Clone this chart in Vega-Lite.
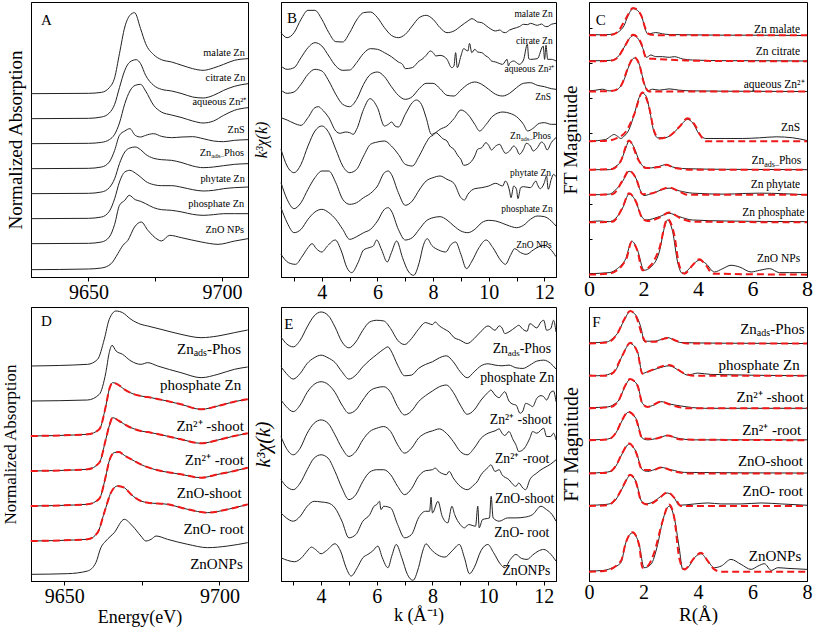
{
"$schema":"https://vega.github.io/schema/vega-lite/v6.json",
"padding":{"left":0,"top":1,"right":0,"bottom":0},
"background":"white",
"columns":3,
"spacing":{"row":30,"column":33},
"bounds":"flush",
"config":{
"view":{"stroke":"#000","strokeWidth":1},
"axis":{"grid":false,"domainColor":"#000","tickColor":"#000","labelColor":"#000","titleColor":"#000","labelFont":"Liberation Serif","titleFont":"Liberation Serif","titleFontWeight":"normal","labelFontSize":20,"tickSize":4,"labelPadding":1,"labelFlush":false,"labelOverlap":false},
"text":{"font":"Liberation Serif","color":"#000"}
},
"datasets":{
"A":[
{"s":1,"x":9628.5,"y":7.2},{"s":1,"x":9650,"y":7.21},{"s":1,"x":9654.9,"y":7.24},{"s":1,"x":9657.8,"y":7.38},{"s":1,"x":9659.8,"y":7.68},{"s":1,"x":9661.6,"y":8.4},{"s":1,"x":9663.6,"y":9.2},{"s":1,"x":9665.5,"y":9.55},{"s":1,"x":9667.25,"y":9.63},{"s":1,"x":9669.5,"y":9.15},{"s":1,"x":9671.4,"y":8.7},{"s":1,"x":9674.4,"y":8.37},{"s":1,"x":9677.3,"y":8.22},{"s":1,"x":9681.1,"y":8.15},{"s":1,"x":9685,"y":8.05},{"s":1,"x":9689,"y":7.95},{"s":1,"x":9692.9,"y":7.9},{"s":1,"x":9696.8,"y":7.97},{"s":1,"x":9700.6,"y":8.08},{"s":1,"x":9704.6,"y":8.2},{"s":1,"x":9709.7,"y":8.25},
{"s":2,"x":9628.5,"y":6.45},{"s":2,"x":9650,"y":6.46},{"s":2,"x":9654.9,"y":6.5},{"s":2,"x":9657.8,"y":6.62},{"s":2,"x":9659.8,"y":6.88},{"s":2,"x":9661.6,"y":7.38},{"s":2,"x":9663.6,"y":7.9},{"s":2,"x":9665.5,"y":8.15},{"s":2,"x":9667.9,"y":8.22},{"s":2,"x":9669.5,"y":8.1},{"s":2,"x":9671.4,"y":7.75},{"s":2,"x":9674.4,"y":7.45},{"s":2,"x":9677.3,"y":7.33},{"s":2,"x":9681.1,"y":7.28},{"s":2,"x":9685,"y":7.2},{"s":2,"x":9689,"y":7.1},{"s":2,"x":9692.9,"y":7.07},{"s":2,"x":9696.8,"y":7.15},{"s":2,"x":9700.6,"y":7.3},{"s":2,"x":9704.6,"y":7.42},{"s":2,"x":9709.7,"y":7.5},
{"s":3,"x":9628.5,"y":5.7},{"s":3,"x":9650,"y":5.71},{"s":3,"x":9654.9,"y":5.74},{"s":3,"x":9657.8,"y":5.82},{"s":3,"x":9659.8,"y":5.98},{"s":3,"x":9661.6,"y":6.32},{"s":3,"x":9663.6,"y":6.9},{"s":3,"x":9665.5,"y":7.28},{"s":3,"x":9667.5,"y":7.45},{"s":3,"x":9669.5,"y":7.48},{"s":3,"x":9671.4,"y":7.28},{"s":3,"x":9674.4,"y":6.85},{"s":3,"x":9677.3,"y":6.65},{"s":3,"x":9681.1,"y":6.56},{"s":3,"x":9685,"y":6.48},{"s":3,"x":9689,"y":6.38},{"s":3,"x":9692.9,"y":6.32},{"s":3,"x":9696.8,"y":6.38},{"s":3,"x":9700.6,"y":6.55},{"s":3,"x":9704.6,"y":6.7},{"s":3,"x":9709.7,"y":6.78},
{"s":4,"x":9628.5,"y":4.95},{"s":4,"x":9650,"y":4.96},{"s":4,"x":9654.9,"y":5},{"s":4,"x":9657.8,"y":5.15},{"s":4,"x":9659.8,"y":5.5},{"s":4,"x":9661.6,"y":5.95},{"s":4,"x":9663.6,"y":6.08},{"s":4,"x":9665.5,"y":6.15},{"s":4,"x":9667.5,"y":5.95},{"s":4,"x":9669.5,"y":5.9},{"s":4,"x":9671.4,"y":5.95},{"s":4,"x":9674.4,"y":6},{"s":4,"x":9677.3,"y":5.92},{"s":4,"x":9681.1,"y":5.88},{"s":4,"x":9685,"y":5.9},{"s":4,"x":9689,"y":5.91},{"s":4,"x":9692.9,"y":5.85},{"s":4,"x":9696.8,"y":5.78},{"s":4,"x":9700.6,"y":5.76},{"s":4,"x":9704.6,"y":5.8},{"s":4,"x":9709.7,"y":5.82},
{"s":5,"x":9628.5,"y":4.2},{"s":5,"x":9650,"y":4.21},{"s":5,"x":9654.9,"y":4.25},{"s":5,"x":9657.8,"y":4.38},{"s":5,"x":9659.8,"y":4.65},{"s":5,"x":9661.6,"y":5.1},{"s":5,"x":9663.6,"y":5.45},{"s":5,"x":9665.5,"y":5.57},{"s":5,"x":9667.5,"y":5.6},{"s":5,"x":9669.5,"y":5.52},{"s":5,"x":9671.4,"y":5.38},{"s":5,"x":9674.4,"y":5.26},{"s":5,"x":9677.3,"y":5.22},{"s":5,"x":9681.1,"y":5.2},{"s":5,"x":9685,"y":5.13},{"s":5,"x":9689,"y":5.03},{"s":5,"x":9692.9,"y":4.98},{"s":5,"x":9696.8,"y":5},{"s":5,"x":9700.6,"y":5.04},{"s":5,"x":9704.6,"y":5.08},{"s":5,"x":9709.7,"y":5.1},
{"s":6,"x":9628.5,"y":3.45},{"s":6,"x":9650,"y":3.46},{"s":6,"x":9654.9,"y":3.5},{"s":6,"x":9657.8,"y":3.67},{"s":6,"x":9659.8,"y":4.05},{"s":6,"x":9661.6,"y":4.55},{"s":6,"x":9663.6,"y":4.85},{"s":6,"x":9665.5,"y":4.9},{"s":6,"x":9667.5,"y":4.82},{"s":6,"x":9669.5,"y":4.7},{"s":6,"x":9671.4,"y":4.57},{"s":6,"x":9674.4,"y":4.47},{"s":6,"x":9677.3,"y":4.44},{"s":6,"x":9681.1,"y":4.44},{"s":6,"x":9685,"y":4.39},{"s":6,"x":9689,"y":4.32},{"s":6,"x":9692.9,"y":4.28},{"s":6,"x":9696.8,"y":4.3},{"s":6,"x":9700.6,"y":4.35},{"s":6,"x":9704.6,"y":4.38},{"s":6,"x":9709.7,"y":4.4},
{"s":7,"x":9628.5,"y":2.7},{"s":7,"x":9650,"y":2.71},{"s":7,"x":9654.9,"y":2.75},{"s":7,"x":9657.8,"y":2.9},{"s":7,"x":9659.8,"y":3.28},{"s":7,"x":9661.6,"y":3.85},{"s":7,"x":9663.6,"y":4},{"s":7,"x":9665.25,"y":4.15},{"s":7,"x":9667.5,"y":4.02},{"s":7,"x":9669.5,"y":3.97},{"s":7,"x":9671.4,"y":3.9},{"s":7,"x":9674.4,"y":3.78},{"s":7,"x":9677.3,"y":3.72},{"s":7,"x":9681.1,"y":3.7},{"s":7,"x":9685,"y":3.65},{"s":7,"x":9689,"y":3.58},{"s":7,"x":9692.9,"y":3.55},{"s":7,"x":9696.8,"y":3.57},{"s":7,"x":9700.6,"y":3.6},{"s":7,"x":9704.6,"y":3.6},{"s":7,"x":9709.7,"y":3.6},
{"s":8,"x":9628.5,"y":1.92},{"s":8,"x":9650,"y":1.94},{"s":8,"x":9654.9,"y":1.97},{"s":8,"x":9658.5,"y":2.1},{"s":8,"x":9661,"y":2.4},{"s":8,"x":9662.9,"y":2.65},{"s":8,"x":9664.75,"y":2.8},{"s":8,"x":9667.25,"y":3.2},{"s":8,"x":9669.75,"y":3.35},{"s":8,"x":9672.25,"y":3.1},{"s":8,"x":9676,"y":2.82},{"s":8,"x":9677.25,"y":2.78},{"s":8,"x":9680.4,"y":2.95},{"s":8,"x":9684.75,"y":2.88},{"s":8,"x":9692.25,"y":2.75},{"s":8,"x":9698.5,"y":2.68},{"s":8,"x":9704.75,"y":2.78},{"s":8,"x":9709.7,"y":2.85}
],
"AL":[
{"t":"malate Zn","x":9708.5,"y":8.42,"k":"n"},{"t":"citrate Zn","x":9708.7,"y":7.68,"k":"n"},{"t":"aqueous Zn²⁺","x":9709.1,"y":6.95,"k":"n"},{"t":"ZnS","x":9708.5,"y":6.12,"k":"n"},{"t":"Phos","x":9708.25,"y":5.42,"k":"n"},{"t":"ads–","x":9700.75,"y":5.32,"k":"b"},{"t":"Zn","x":9695.95,"y":5.42,"k":"n"},{"t":"phytate Zn","x":9708.5,"y":4.65,"k":"n"},{"t":"phosphate Zn","x":9708.25,"y":3.9,"k":"n"},{"t":"ZnO NPs","x":9708.25,"y":3.12,"k":"n"},{"t":"A","x":9632.25,"y":9.4,"k":"p"}
],
"B":[
{"s":1,"x":2.53,"y":9},{"s":1,"x":2.75,"y":8.85},{"s":1,"x":3,"y":9},{"s":1,"x":3.25,"y":9.4},{"s":1,"x":3.5,"y":9.67},{"s":1,"x":3.75,"y":9.67},{"s":1,"x":4,"y":9.4},{"s":1,"x":4.25,"y":9},{"s":1,"x":4.5,"y":8.73},{"s":1,"x":4.75,"y":8.72},{"s":1,"x":5,"y":9},{"s":1,"x":5.25,"y":9.38},{"s":1,"x":5.5,"y":9.6},{"s":1,"x":5.75,"y":9.62},{"s":1,"x":6,"y":9.45},{"s":1,"x":6.25,"y":9.15},{"s":1,"x":6.5,"y":8.92},{"s":1,"x":6.75,"y":8.85},{"s":1,"x":7,"y":8.95},{"s":1,"x":7.25,"y":9.2},{"s":1,"x":7.5,"y":9.45},{"s":1,"x":7.75,"y":9.52},{"s":1,"x":8,"y":9.4},{"s":1,"x":8.25,"y":9.15},{"s":1,"x":8.5,"y":9},{"s":1,"x":8.75,"y":9.05},{"s":1,"x":9,"y":9.2},{"s":1,"x":9.25,"y":9.35},{"s":1,"x":9.4,"y":9.42},{"s":1,"x":9.5,"y":9.38},{"s":1,"x":9.6,"y":9.32},{"s":1,"x":9.75,"y":9.3},{"s":1,"x":10,"y":9.15},{"s":1,"x":10.25,"y":9.05},{"s":1,"x":10.4,"y":9.08},{"s":1,"x":10.5,"y":9.02},{"s":1,"x":10.6,"y":9},{"s":1,"x":10.75,"y":9.08},{"s":1,"x":11,"y":9.15},{"s":1,"x":11.1,"y":9.18},{"s":1,"x":11.25,"y":9.25},{"s":1,"x":11.4,"y":9.24},{"s":1,"x":11.5,"y":9.28},{"s":1,"x":11.75,"y":9.22},{"s":1,"x":11.9,"y":9.26},{"s":1,"x":12,"y":9.2},{"s":1,"x":12.1,"y":9.18},{"s":1,"x":12.25,"y":9.25},{"s":1,"x":12.42,"y":9.28},
{"s":2,"x":2.53,"y":8},{"s":2,"x":2.75,"y":7.9},{"s":2,"x":3,"y":7.95},{"s":2,"x":3.25,"y":8.25},{"s":2,"x":3.5,"y":8.55},{"s":2,"x":3.75,"y":8.7},{"s":2,"x":4,"y":8.6},{"s":2,"x":4.25,"y":8.3},{"s":2,"x":4.5,"y":8},{"s":2,"x":4.75,"y":7.87},{"s":2,"x":5,"y":7.88},{"s":2,"x":5.25,"y":8.1},{"s":2,"x":5.5,"y":8.38},{"s":2,"x":5.75,"y":8.52},{"s":2,"x":6,"y":8.5},{"s":2,"x":6.25,"y":8.4},{"s":2,"x":6.5,"y":8.28},{"s":2,"x":6.75,"y":8.12},{"s":2,"x":6.9,"y":8.05},{"s":2,"x":7,"y":7.92},{"s":2,"x":7.25,"y":7.95},{"s":2,"x":7.5,"y":8.15},{"s":2,"x":7.6,"y":8.2},{"s":2,"x":7.75,"y":8.32},{"s":2,"x":7.9,"y":8.45},{"s":2,"x":8,"y":8.4},{"s":2,"x":8.1,"y":8.3},{"s":2,"x":8.25,"y":8.32},{"s":2,"x":8.4,"y":8.28},{"s":2,"x":8.5,"y":8.2},{"s":2,"x":8.67,"y":7.95},{"s":2,"x":8.75,"y":8},{"s":2,"x":8.81,"y":8.4},{"s":2,"x":8.87,"y":7.95},{"s":2,"x":9,"y":8.3},{"s":2,"x":9.1,"y":8.52},{"s":2,"x":9.25,"y":8.45},{"s":2,"x":9.31,"y":8.68},{"s":2,"x":9.39,"y":8.4},{"s":2,"x":9.5,"y":8.5},{"s":2,"x":9.6,"y":8.42},{"s":2,"x":9.75,"y":8.4},{"s":2,"x":9.9,"y":8.3},{"s":2,"x":10,"y":8.25},{"s":2,"x":10.1,"y":8.15},{"s":2,"x":10.25,"y":8.12},{"s":2,"x":10.5,"y":8.05},{"s":2,"x":10.66,"y":8.2},{"s":2,"x":10.71,"y":8},{"s":2,"x":10.75,"y":8.08},{"s":2,"x":10.9,"y":8.15},{"s":2,"x":11,"y":8.1},{"s":2,"x":11.1,"y":8.05},{"s":2,"x":11.25,"y":8.18},{"s":2,"x":11.39,"y":8.65},{"s":2,"x":11.44,"y":8.22},{"s":2,"x":11.5,"y":8.2},{"s":2,"x":11.75,"y":8.22},{"s":2,"x":11.96,"y":8.6},{"s":2,"x":12.01,"y":8.2},{"s":2,"x":12.06,"y":8.62},{"s":2,"x":12.12,"y":8.2},{"s":2,"x":12.25,"y":8.2},{"s":2,"x":12.42,"y":8.15},
{"s":3,"x":2.53,"y":7.28},{"s":3,"x":2.75,"y":7.18},{"s":3,"x":3,"y":7.22},{"s":3,"x":3.25,"y":7.45},{"s":3,"x":3.5,"y":7.75},{"s":3,"x":3.75,"y":7.9},{"s":3,"x":4,"y":7.85},{"s":3,"x":4.25,"y":7.55},{"s":3,"x":4.5,"y":7.15},{"s":3,"x":4.75,"y":6.85},{"s":3,"x":5,"y":6.78},{"s":3,"x":5.25,"y":7},{"s":3,"x":5.5,"y":7.45},{"s":3,"x":5.75,"y":7.75},{"s":3,"x":6,"y":7.82},{"s":3,"x":6.25,"y":7.68},{"s":3,"x":6.5,"y":7.38},{"s":3,"x":6.75,"y":7.12},{"s":3,"x":7,"y":7},{"s":3,"x":7.25,"y":7.08},{"s":3,"x":7.5,"y":7.32},{"s":3,"x":7.75,"y":7.48},{"s":3,"x":8,"y":7.48},{"s":3,"x":8.25,"y":7.32},{"s":3,"x":8.5,"y":7.12},{"s":3,"x":8.75,"y":7.1},{"s":3,"x":9,"y":7.28},{"s":3,"x":9.25,"y":7.45},{"s":3,"x":9.5,"y":7.52},{"s":3,"x":9.75,"y":7.45},{"s":3,"x":10,"y":7.3},{"s":3,"x":10.25,"y":7.15},{"s":3,"x":10.5,"y":7.1},{"s":3,"x":10.75,"y":7.18},{"s":3,"x":11,"y":7.35},{"s":3,"x":11.25,"y":7.48},{"s":3,"x":11.5,"y":7.5},{"s":3,"x":11.75,"y":7.42},{"s":3,"x":12,"y":7.38},{"s":3,"x":12.25,"y":7.32},{"s":3,"x":12.42,"y":7.3},
{"s":4,"x":2.53,"y":6.45},{"s":4,"x":2.75,"y":6.38},{"s":4,"x":3,"y":6.28},{"s":4,"x":3.25,"y":6.22},{"s":4,"x":3.5,"y":6.45},{"s":4,"x":3.75,"y":6.75},{"s":4,"x":3.88,"y":6.78},{"s":4,"x":4,"y":6.7},{"s":4,"x":4.25,"y":6.45},{"s":4,"x":4.5,"y":6.05},{"s":4,"x":4.66,"y":5.98},{"s":4,"x":4.84,"y":6.02},{"s":4,"x":5,"y":6},{"s":4,"x":5.13,"y":5.95},{"s":4,"x":5.25,"y":6.1},{"s":4,"x":5.5,"y":6.7},{"s":4,"x":5.73,"y":7.02},{"s":4,"x":6,"y":6.75},{"s":4,"x":6.25,"y":6.2},{"s":4,"x":6.39,"y":6.25},{"s":4,"x":6.51,"y":6.32},{"s":4,"x":6.63,"y":6.2},{"s":4,"x":6.75,"y":6.17},{"s":4,"x":7,"y":6.55},{"s":4,"x":7.25,"y":6.9},{"s":4,"x":7.4,"y":6.98},{"s":4,"x":7.58,"y":6.85},{"s":4,"x":7.75,"y":6.45},{"s":4,"x":7.94,"y":5.95},{"s":4,"x":8.12,"y":6.02},{"s":4,"x":8.25,"y":6.1},{"s":4,"x":8.5,"y":6.2},{"s":4,"x":8.75,"y":6.42},{"s":4,"x":9,"y":6.68},{"s":4,"x":9.25,"y":6.55},{"s":4,"x":9.5,"y":6.25},{"s":4,"x":9.67,"y":6.05},{"s":4,"x":9.91,"y":6.25},{"s":4,"x":10.15,"y":6.5},{"s":4,"x":10.51,"y":6.62},{"s":4,"x":10.76,"y":6.58},{"s":4,"x":11,"y":6.48},{"s":4,"x":11.25,"y":6.25},{"s":4,"x":11.4,"y":6.05},{"s":4,"x":11.58,"y":6.12},{"s":4,"x":11.82,"y":6.28},{"s":4,"x":12,"y":6.3},{"s":4,"x":12.25,"y":6.25},{"s":4,"x":12.42,"y":6.25},
{"s":5,"x":2.53,"y":5.5},{"s":5,"x":2.75,"y":5},{"s":5,"x":3,"y":4.8},{"s":5,"x":3.25,"y":5.05},{"s":5,"x":3.5,"y":5.6},{"s":5,"x":3.75,"y":6.05},{"s":5,"x":4,"y":6.2},{"s":5,"x":4.25,"y":6},{"s":5,"x":4.5,"y":5.5},{"s":5,"x":4.75,"y":5},{"s":5,"x":5,"y":4.8},{"s":5,"x":5.25,"y":4.9},{"s":5,"x":5.5,"y":5.3},{"s":5,"x":5.75,"y":5.65},{"s":5,"x":6,"y":5.72},{"s":5,"x":6.25,"y":5.75},{"s":5,"x":6.5,"y":5.6},{"s":5,"x":6.75,"y":5.35},{"s":5,"x":7,"y":5.05},{"s":5,"x":7.25,"y":5},{"s":5,"x":7.5,"y":5.3},{"s":5,"x":7.75,"y":5.7},{"s":5,"x":7.9,"y":5.88},{"s":5,"x":8,"y":5.92},{"s":5,"x":8.1,"y":6},{"s":5,"x":8.25,"y":5.9},{"s":5,"x":8.35,"y":5.82},{"s":5,"x":8.5,"y":5.75},{"s":5,"x":8.6,"y":5.6},{"s":5,"x":8.75,"y":5.5},{"s":5,"x":8.9,"y":5.3},{"s":5,"x":9,"y":5.2},{"s":5,"x":9.1,"y":5.02},{"s":5,"x":9.25,"y":5.05},{"s":5,"x":9.5,"y":5.3},{"s":5,"x":9.6,"y":5.5},{"s":5,"x":9.75,"y":5.55},{"s":5,"x":9.9,"y":5.7},{"s":5,"x":10,"y":5.62},{"s":5,"x":10.1,"y":5.48},{"s":5,"x":10.25,"y":5.6},{"s":5,"x":10.4,"y":5.65},{"s":5,"x":10.5,"y":5.5},{"s":5,"x":10.6,"y":5.38},{"s":5,"x":10.75,"y":5.45},{"s":5,"x":10.9,"y":5.6},{"s":5,"x":11,"y":5.52},{"s":5,"x":11.1,"y":5.35},{"s":5,"x":11.25,"y":5.5},{"s":5,"x":11.35,"y":5.68},{"s":5,"x":11.5,"y":5.6},{"s":5,"x":11.6,"y":5.45},{"s":5,"x":11.75,"y":5.55},{"s":5,"x":11.9,"y":5.72},{"s":5,"x":12,"y":5.65},{"s":5,"x":12.1,"y":5.48},{"s":5,"x":12.25,"y":5.7},{"s":5,"x":12.35,"y":5.8},{"s":5,"x":12.42,"y":5.85},
{"s":6,"x":2.53,"y":4.5},{"s":6,"x":2.75,"y":4},{"s":6,"x":3,"y":3.72},{"s":6,"x":3.25,"y":3.9},{"s":6,"x":3.5,"y":4.3},{"s":6,"x":3.75,"y":4.65},{"s":6,"x":4,"y":4.85},{"s":6,"x":4.25,"y":4.85},{"s":6,"x":4.5,"y":4.5},{"s":6,"x":4.75,"y":4},{"s":6,"x":5,"y":3.85},{"s":6,"x":5.25,"y":3.9},{"s":6,"x":5.5,"y":4.05},{"s":6,"x":5.75,"y":4.18},{"s":6,"x":6,"y":4.4},{"s":6,"x":6.25,"y":4.8},{"s":6,"x":6.39,"y":4.85},{"s":6,"x":6.5,"y":4.75},{"s":6,"x":6.75,"y":4.2},{"s":6,"x":7,"y":3.82},{"s":6,"x":7.25,"y":3.95},{"s":6,"x":7.5,"y":4.28},{"s":6,"x":7.75,"y":4.55},{"s":6,"x":8,"y":4.65},{"s":6,"x":8.25,"y":4.7},{"s":6,"x":8.5,"y":4.6},{"s":6,"x":8.75,"y":4.48},{"s":6,"x":9,"y":4.05},{"s":6,"x":9.13,"y":3.98},{"s":6,"x":9.25,"y":4.15},{"s":6,"x":9.5,"y":4.32},{"s":6,"x":9.75,"y":4.35},{"s":6,"x":10,"y":4.4},{"s":6,"x":10.25,"y":4.48},{"s":6,"x":10.5,"y":4.4},{"s":6,"x":10.6,"y":4.55},{"s":6,"x":10.75,"y":4.25},{"s":6,"x":10.8,"y":4.05},{"s":6,"x":10.9,"y":4.4},{"s":6,"x":11,"y":4.3},{"s":6,"x":11.05,"y":4.02},{"s":6,"x":11.15,"y":4.35},{"s":6,"x":11.25,"y":4.38},{"s":6,"x":11.5,"y":4.35},{"s":6,"x":11.7,"y":4.55},{"s":6,"x":11.75,"y":4.45},{"s":6,"x":11.85,"y":4.32},{"s":6,"x":12,"y":4.5},{"s":6,"x":12.08,"y":4.7},{"s":6,"x":12.14,"y":4.3},{"s":6,"x":12.25,"y":4.6},{"s":6,"x":12.33,"y":4.75},{"s":6,"x":12.42,"y":4.68},
{"s":7,"x":2.53,"y":3.75},{"s":7,"x":2.75,"y":3.3},{"s":7,"x":3,"y":3},{"s":7,"x":3.25,"y":3.1},{"s":7,"x":3.5,"y":3.4},{"s":7,"x":3.75,"y":3.62},{"s":7,"x":4,"y":3.7},{"s":7,"x":4.25,"y":3.6},{"s":7,"x":4.5,"y":3.4},{"s":7,"x":4.75,"y":3.1},{"s":7,"x":5,"y":2.8},{"s":7,"x":5.25,"y":2.88},{"s":7,"x":5.5,"y":3},{"s":7,"x":5.75,"y":3.1},{"s":7,"x":6,"y":3.35},{"s":7,"x":6.25,"y":3.7},{"s":7,"x":6.39,"y":3.75},{"s":7,"x":6.5,"y":3.65},{"s":7,"x":6.75,"y":3.1},{"s":7,"x":7,"y":2.78},{"s":7,"x":7.25,"y":2.85},{"s":7,"x":7.5,"y":3.1},{"s":7,"x":7.75,"y":3.35},{"s":7,"x":8,"y":3.45},{"s":7,"x":8.25,"y":3.48},{"s":7,"x":8.5,"y":3.38},{"s":7,"x":8.75,"y":3.2},{"s":7,"x":9,"y":3.05},{"s":7,"x":9.25,"y":3},{"s":7,"x":9.5,"y":3.1},{"s":7,"x":9.75,"y":3.3},{"s":7,"x":10,"y":3.37},{"s":7,"x":10.25,"y":3.35},{"s":7,"x":10.5,"y":3.28},{"s":7,"x":10.75,"y":3.2},{"s":7,"x":11,"y":3.15},{"s":7,"x":11.25,"y":3.22},{"s":7,"x":11.5,"y":3.4},{"s":7,"x":11.75,"y":3.5},{"s":7,"x":12,"y":3.48},{"s":7,"x":12.25,"y":3.35},{"s":7,"x":12.42,"y":3.2},
{"s":8,"x":2.53,"y":2.35},{"s":8,"x":2.8,"y":2.1},{"s":8,"x":3.05,"y":2.05},{"s":8,"x":3.3,"y":2.3},{"s":8,"x":3.5,"y":2.55},{"s":8,"x":3.65,"y":2.67},{"s":8,"x":3.8,"y":2.52},{"s":8,"x":4,"y":2.42},{"s":8,"x":4.2,"y":2.6},{"s":8,"x":4.48,"y":2.78},{"s":8,"x":4.7,"y":2.45},{"s":8,"x":4.9,"y":1.95},{"s":8,"x":5.07,"y":1.8},{"s":8,"x":5.3,"y":2.1},{"s":8,"x":5.5,"y":2.48},{"s":8,"x":5.7,"y":2.55},{"s":8,"x":5.85,"y":2.6},{"s":8,"x":5.97,"y":2.78},{"s":8,"x":6.15,"y":2.48},{"s":8,"x":6.35,"y":2.12},{"s":8,"x":6.5,"y":2.4},{"s":8,"x":6.69,"y":2.75},{"s":8,"x":6.9,"y":2.25},{"s":8,"x":7.1,"y":1.85},{"s":8,"x":7.3,"y":1.72},{"s":8,"x":7.5,"y":2.1},{"s":8,"x":7.65,"y":2.62},{"s":8,"x":7.79,"y":2.82},{"s":8,"x":7.95,"y":2.62},{"s":8,"x":8.2,"y":2.48},{"s":8,"x":8.45,"y":2.42},{"s":8,"x":8.65,"y":2.65},{"s":8,"x":8.81,"y":2.72},{"s":8,"x":9,"y":2.35},{"s":8,"x":9.2,"y":1.92},{"s":8,"x":9.4,"y":2.15},{"s":8,"x":9.65,"y":2.55},{"s":8,"x":9.91,"y":2.78},{"s":8,"x":10.15,"y":2.55},{"s":8,"x":10.45,"y":2.15},{"s":8,"x":10.6,"y":2.05},{"s":8,"x":10.8,"y":2.35},{"s":8,"x":10.93,"y":2.52},{"s":8,"x":11.15,"y":2.4},{"s":8,"x":11.35,"y":2.35},{"s":8,"x":11.6,"y":2.48},{"s":8,"x":11.8,"y":2.58},{"s":8,"x":12,"y":2.62},{"s":8,"x":12.2,"y":2.52},{"s":8,"x":12.42,"y":2.28}
],
"BL":[
{"t":"malate Zn","x":12.3,"y":9.55,"k":"n"},{"t":"citrate Zn","x":12.3,"y":8.75,"k":"n"},{"t":"aqueous Zn²⁺","x":12.36,"y":7.92,"k":"n"},{"t":"ZnS","x":12.24,"y":7.07,"k":"n"},{"t":"Phos","x":12.24,"y":5.9,"k":"n"},{"t":"ads–","x":11.58,"y":5.8,"k":"b"},{"t":"Zn","x":11.15,"y":5.9,"k":"n"},{"t":"phytate Zn","x":12.24,"y":4.8,"k":"n"},{"t":"phosphate Zn","x":12.3,"y":3.72,"k":"n"},{"t":"ZnO NPs","x":12.27,"y":2.62,"k":"n"},{"t":"B","x":2.75,"y":9.45,"k":"p"}
],
"C":[
{"s":1,"x":0,"y":8.98},{"s":1,"x":0.49,"y":8.97},{"s":1,"x":0.74,"y":8.98},{"s":1,"x":0.98,"y":9.02},{"s":1,"x":1.17,"y":9.12},{"s":1,"x":1.29,"y":9.25},{"s":1,"x":1.41,"y":9.5},{"s":1,"x":1.62,"y":9.75},{"s":1,"x":1.84,"y":9.65},{"s":1,"x":1.96,"y":9.45},{"s":1,"x":2.06,"y":9.15},{"s":1,"x":2.15,"y":9},{"s":1,"x":2.27,"y":9.01},{"s":1,"x":2.45,"y":9.04},{"s":1,"x":2.7,"y":9},{"s":1,"x":2.94,"y":8.98},{"s":1,"x":3.8,"y":8.97},{"s":1,"x":5.03,"y":8.96},{"s":1,"x":6.26,"y":8.96},{"s":1,"x":8,"y":8.95},
{"s":2,"x":0,"y":8.2},{"s":2,"x":0.49,"y":8.2},{"s":2,"x":0.8,"y":8.21},{"s":2,"x":1.04,"y":8.3},{"s":2,"x":1.29,"y":8.6},{"s":2,"x":1.47,"y":8.85},{"s":2,"x":1.62,"y":8.95},{"s":2,"x":1.78,"y":8.88},{"s":2,"x":1.96,"y":8.6},{"s":2,"x":2.11,"y":8.3},{"s":2,"x":2.27,"y":8.37},{"s":2,"x":2.45,"y":8.32},{"s":2,"x":2.7,"y":8.32},{"s":2,"x":2.94,"y":8.3},{"s":2,"x":3.13,"y":8.32},{"s":2,"x":3.44,"y":8.25},{"s":2,"x":3.8,"y":8.22},{"s":2,"x":5.03,"y":8.2},{"s":2,"x":6.26,"y":8.2},{"s":2,"x":8,"y":8.19},
{"s":3,"x":0,"y":7.3},{"s":3,"x":0.25,"y":7.32},{"s":3,"x":0.49,"y":7.35},{"s":3,"x":0.74,"y":7.3},{"s":3,"x":0.98,"y":7.32},{"s":3,"x":1.17,"y":7.45},{"s":3,"x":1.31,"y":7.68},{"s":3,"x":1.47,"y":8.05},{"s":3,"x":1.66,"y":8.28},{"s":3,"x":1.84,"y":8.1},{"s":3,"x":2.02,"y":7.55},{"s":3,"x":2.15,"y":7.3},{"s":3,"x":2.33,"y":7.35},{"s":3,"x":2.58,"y":7.32},{"s":3,"x":2.94,"y":7.36},{"s":3,"x":3.31,"y":7.32},{"s":3,"x":3.8,"y":7.3},{"s":3,"x":5.03,"y":7.29},{"s":3,"x":8,"y":7.28},
{"s":4,"x":0,"y":5.8},{"s":4,"x":0.61,"y":5.85},{"s":4,"x":0.8,"y":5.95},{"s":4,"x":0.92,"y":6},{"s":4,"x":1.04,"y":5.95},{"s":4,"x":1.17,"y":5.88},{"s":4,"x":1.29,"y":5.95},{"s":4,"x":1.47,"y":6.15},{"s":4,"x":1.66,"y":6.6},{"s":4,"x":1.84,"y":7.1},{"s":4,"x":1.96,"y":7.23},{"s":4,"x":2.09,"y":7.15},{"s":4,"x":2.23,"y":6.7},{"s":4,"x":2.36,"y":6.15},{"s":4,"x":2.52,"y":5.9},{"s":4,"x":2.76,"y":5.9},{"s":4,"x":3.01,"y":5.98},{"s":4,"x":3.31,"y":6.22},{"s":4,"x":3.62,"y":6.45},{"s":4,"x":3.8,"y":6.35},{"s":4,"x":4.05,"y":6},{"s":4,"x":4.29,"y":5.88},{"s":4,"x":5.03,"y":5.88},{"s":4,"x":5.64,"y":5.88},{"s":4,"x":6.26,"y":5.9},{"s":4,"x":6.87,"y":5.93},{"s":4,"x":7.48,"y":5.9},{"s":4,"x":8,"y":5.82},
{"s":5,"x":0,"y":4.95},{"s":5,"x":0.74,"y":4.95},{"s":5,"x":0.98,"y":5.05},{"s":5,"x":1.17,"y":5.2},{"s":5,"x":1.33,"y":5.55},{"s":5,"x":1.47,"y":5.8},{"s":5,"x":1.66,"y":5.6},{"s":5,"x":1.84,"y":5.22},{"s":5,"x":1.99,"y":5.05},{"s":5,"x":2.21,"y":5},{"s":5,"x":2.58,"y":5.05},{"s":5,"x":2.82,"y":5.1},{"s":5,"x":3.07,"y":5.03},{"s":5,"x":3.56,"y":4.98},{"s":5,"x":5.03,"y":4.96},{"s":5,"x":8,"y":4.95},
{"s":6,"x":0,"y":4.2},{"s":6,"x":0.74,"y":4.22},{"s":6,"x":0.98,"y":4.35},{"s":6,"x":1.23,"y":4.6},{"s":6,"x":1.47,"y":4.9},{"s":6,"x":1.72,"y":4.7},{"s":6,"x":1.9,"y":4.3},{"s":6,"x":2.02,"y":4.18},{"s":6,"x":2.33,"y":4.25},{"s":6,"x":2.94,"y":4.4},{"s":6,"x":3.31,"y":4.32},{"s":6,"x":3.8,"y":4.25},{"s":6,"x":5.03,"y":4.22},{"s":6,"x":5.64,"y":4.24},{"s":6,"x":6.26,"y":4.25},{"s":6,"x":8,"y":4.2},
{"s":7,"x":0,"y":3.4},{"s":7,"x":0.37,"y":3.42},{"s":7,"x":0.74,"y":3.4},{"s":7,"x":0.98,"y":3.5},{"s":7,"x":1.23,"y":3.8},{"s":7,"x":1.47,"y":4.22},{"s":7,"x":1.72,"y":4},{"s":7,"x":1.9,"y":3.6},{"s":7,"x":2.09,"y":3.45},{"s":7,"x":2.58,"y":3.55},{"s":7,"x":2.94,"y":3.65},{"s":7,"x":3.31,"y":3.55},{"s":7,"x":3.8,"y":3.45},{"s":7,"x":5.03,"y":3.42},{"s":7,"x":8,"y":3.4},
{"s":8,"x":0,"y":1.85},{"s":8,"x":0.74,"y":1.88},{"s":8,"x":1.04,"y":2},{"s":8,"x":1.35,"y":2.3},{"s":8,"x":1.57,"y":2.82},{"s":8,"x":1.78,"y":2.55},{"s":8,"x":2.02,"y":1.95},{"s":8,"x":2.27,"y":2.05},{"s":8,"x":2.58,"y":2.5},{"s":8,"x":2.76,"y":3.2},{"s":8,"x":2.88,"y":3.45},{"s":8,"x":3.07,"y":3.1},{"s":8,"x":3.25,"y":2.2},{"s":8,"x":3.44,"y":1.85},{"s":8,"x":3.68,"y":2},{"s":8,"x":4.05,"y":2.25},{"s":8,"x":4.29,"y":2.15},{"s":8,"x":4.6,"y":1.9},{"s":8,"x":4.91,"y":2},{"s":8,"x":5.21,"y":2.1},{"s":8,"x":5.52,"y":2.05},{"s":8,"x":5.95,"y":1.9},{"s":8,"x":6.26,"y":1.95},{"s":8,"x":6.63,"y":2},{"s":8,"x":6.99,"y":1.88},{"s":8,"x":7.36,"y":1.88},{"s":8,"x":8,"y":1.88}
],
"Cf":[
{"s":1,"x":0,"y":8.96},{"s":1,"x":0.74,"y":8.96},{"s":1,"x":1.04,"y":9.05},{"s":1,"x":1.35,"y":9.45},{"s":1,"x":1.62,"y":9.77},{"s":1,"x":1.9,"y":9.58},{"s":1,"x":2.09,"y":9.12},{"s":1,"x":2.23,"y":8.98},{"s":1,"x":2.58,"y":8.96},{"s":1,"x":8,"y":8.96},
{"s":2,"x":0,"y":8.18},{"s":2,"x":0.74,"y":8.19},{"s":2,"x":1.04,"y":8.28},{"s":2,"x":1.29,"y":8.6},{"s":2,"x":1.62,"y":8.97},{"s":2,"x":1.9,"y":8.75},{"s":2,"x":2.11,"y":8.28},{"s":2,"x":2.45,"y":8.25},{"s":2,"x":2.94,"y":8.23},{"s":2,"x":3.8,"y":8.2},{"s":2,"x":8,"y":8.18},
{"s":3,"x":0,"y":7.28},{"s":3,"x":0.86,"y":7.3},{"s":3,"x":1.17,"y":7.45},{"s":3,"x":1.47,"y":8.07},{"s":3,"x":1.66,"y":8.3},{"s":3,"x":1.84,"y":8.1},{"s":3,"x":2.02,"y":7.52},{"s":3,"x":2.21,"y":7.28},{"s":3,"x":8,"y":7.28},
{"s":4,"x":0,"y":5.8},{"s":4,"x":0.74,"y":5.82},{"s":4,"x":1.04,"y":5.9},{"s":4,"x":1.35,"y":6.08},{"s":4,"x":1.66,"y":6.6},{"s":4,"x":1.96,"y":7.25},{"s":4,"x":2.21,"y":6.8},{"s":4,"x":2.39,"y":6.1},{"s":4,"x":2.58,"y":5.88},{"s":4,"x":2.94,"y":5.95},{"s":4,"x":3.31,"y":6.22},{"s":4,"x":3.62,"y":6.48},{"s":4,"x":3.87,"y":6.3},{"s":4,"x":4.11,"y":5.95},{"s":4,"x":4.29,"y":5.8},{"s":4,"x":5.03,"y":5.8},{"s":4,"x":8,"y":5.8},
{"s":5,"x":0,"y":4.95},{"s":5,"x":0.86,"y":4.97},{"s":5,"x":1.17,"y":5.22},{"s":5,"x":1.47,"y":5.82},{"s":5,"x":1.84,"y":5.2},{"s":5,"x":2.09,"y":5},{"s":5,"x":2.58,"y":5.03},{"s":5,"x":2.85,"y":5.1},{"s":5,"x":3.13,"y":5},{"s":5,"x":3.8,"y":4.95},{"s":5,"x":8,"y":4.95},
{"s":6,"x":0,"y":4.2},{"s":6,"x":0.86,"y":4.22},{"s":6,"x":1.23,"y":4.62},{"s":6,"x":1.47,"y":4.92},{"s":6,"x":1.72,"y":4.7},{"s":6,"x":1.96,"y":4.22},{"s":6,"x":2.33,"y":4.25},{"s":6,"x":2.94,"y":4.42},{"s":6,"x":3.31,"y":4.3},{"s":6,"x":3.62,"y":4.2},{"s":6,"x":8,"y":4.2},
{"s":7,"x":0,"y":3.38},{"s":7,"x":0.86,"y":3.4},{"s":7,"x":1.23,"y":3.82},{"s":7,"x":1.47,"y":4.25},{"s":7,"x":1.72,"y":4},{"s":7,"x":1.96,"y":3.5},{"s":7,"x":2.15,"y":3.42},{"s":7,"x":2.58,"y":3.52},{"s":7,"x":2.94,"y":3.67},{"s":7,"x":3.37,"y":3.5},{"s":7,"x":3.8,"y":3.4},{"s":7,"x":8,"y":3.38},
{"s":8,"x":0,"y":1.82},{"s":8,"x":0.74,"y":1.85},{"s":8,"x":1.35,"y":2.25},{"s":8,"x":1.57,"y":2.8},{"s":8,"x":1.78,"y":2.52},{"s":8,"x":1.96,"y":1.95},{"s":8,"x":2.27,"y":2.1},{"s":8,"x":2.58,"y":2.6},{"s":8,"x":2.88,"y":3.48},{"s":8,"x":3.13,"y":3},{"s":8,"x":3.31,"y":2.1},{"s":8,"x":3.5,"y":1.85},{"s":8,"x":3.8,"y":2.1},{"s":8,"x":4.05,"y":2.28},{"s":8,"x":4.29,"y":2.1},{"s":8,"x":4.54,"y":1.85},{"s":8,"x":8,"y":1.82}
],
"CL":[
{"t":"Zn malate","x":7.75,"y":9.12,"k":"n"},{"t":"Zn citrate","x":7.75,"y":8.45,"k":"n"},{"t":"aqueous Zn²⁺","x":7.91,"y":7.48,"k":"n"},{"t":"ZnS","x":7.75,"y":6.2,"k":"n"},{"t":"Phos","x":7.79,"y":5.22,"k":"n"},{"t":"ads–","x":6.97,"y":5.1,"k":"b"},{"t":"Zn","x":6.43,"y":5.22,"k":"n"},{"t":"Zn phytate","x":7.75,"y":4.5,"k":"n"},{"t":"Zn phosphate","x":7.91,"y":3.65,"k":"n"},{"t":"ZnO NPs","x":7.75,"y":2.28,"k":"n"},{"t":"C","x":0.25,"y":9.4,"k":"p"}
],
"D":[
{"s":1,"x":9639.25,"y":8.2},{"s":1,"x":9657.5,"y":8.25},{"s":1,"x":9660.75,"y":8.4},{"s":1,"x":9662.9,"y":9},{"s":1,"x":9664.5,"y":9.6},{"s":1,"x":9666.7,"y":9.85},{"s":1,"x":9668.8,"y":9.8},{"s":1,"x":9671.5,"y":9.6},{"s":1,"x":9674.7,"y":9.45},{"s":1,"x":9676.9,"y":9.4},{"s":1,"x":9681.2,"y":9.3},{"s":1,"x":9687.6,"y":9.15},{"s":1,"x":9694.1,"y":9.05},{"s":1,"x":9699.5,"y":9.1},{"s":1,"x":9704.8,"y":9.2},{"s":1,"x":9709.1,"y":9.28},
{"s":2,"x":9639.25,"y":7.15},{"s":2,"x":9657.5,"y":7.18},{"s":2,"x":9661.3,"y":7.35},{"s":2,"x":9663.4,"y":8},{"s":2,"x":9664.5,"y":8.6},{"s":2,"x":9665.4,"y":8.82},{"s":2,"x":9666.7,"y":8.65},{"s":2,"x":9668.8,"y":8.55},{"s":2,"x":9671.5,"y":8.35},{"s":2,"x":9674.7,"y":8.25},{"s":2,"x":9676.9,"y":8.3},{"s":2,"x":9680.1,"y":8.2},{"s":2,"x":9687.6,"y":8},{"s":2,"x":9694.1,"y":7.85},{"s":2,"x":9699.5,"y":7.95},{"s":2,"x":9704.8,"y":8.1},{"s":2,"x":9709.1,"y":8.17},
{"s":3,"x":9639.25,"y":6.1},{"s":3,"x":9657.5,"y":6.15},{"s":3,"x":9661.3,"y":6.3},{"s":3,"x":9663.4,"y":7},{"s":3,"x":9664.5,"y":7.5},{"s":3,"x":9665.6,"y":7.7},{"s":3,"x":9667.2,"y":7.65},{"s":3,"x":9669.35,"y":7.5},{"s":3,"x":9672.6,"y":7.35},{"s":3,"x":9674.7,"y":7.3},{"s":3,"x":9678,"y":7.25},{"s":3,"x":9687.6,"y":7.05},{"s":3,"x":9694.1,"y":6.9},{"s":3,"x":9699.5,"y":7},{"s":3,"x":9704.8,"y":7.13},{"s":3,"x":9709.1,"y":7.2},
{"s":4,"x":9639.25,"y":5.05},{"s":4,"x":9657.5,"y":5.1},{"s":4,"x":9661.3,"y":5.3},{"s":4,"x":9663.4,"y":6},{"s":4,"x":9664.5,"y":6.4},{"s":4,"x":9665.6,"y":6.65},{"s":4,"x":9667.7,"y":6.55},{"s":4,"x":9670.4,"y":6.4},{"s":4,"x":9674.7,"y":6.25},{"s":4,"x":9678,"y":6.2},{"s":4,"x":9687.6,"y":6},{"s":4,"x":9694.1,"y":5.88},{"s":4,"x":9699.5,"y":5.98},{"s":4,"x":9704.8,"y":6.1},{"s":4,"x":9709.1,"y":6.18},
{"s":5,"x":9639.25,"y":4},{"s":5,"x":9657.5,"y":4.05},{"s":5,"x":9661.3,"y":4.22},{"s":5,"x":9663.4,"y":4.9},{"s":5,"x":9664.5,"y":5.35},{"s":5,"x":9666.1,"y":5.6},{"s":5,"x":9667.7,"y":5.62},{"s":5,"x":9669.35,"y":5.52},{"s":5,"x":9672.6,"y":5.35},{"s":5,"x":9675.8,"y":5.2},{"s":5,"x":9679,"y":5.1},{"s":5,"x":9687.6,"y":4.95},{"s":5,"x":9694.1,"y":4.85},{"s":5,"x":9699.5,"y":4.95},{"s":5,"x":9704.8,"y":5.05},{"s":5,"x":9709.1,"y":5.15},
{"s":6,"x":9639.25,"y":2.95},{"s":6,"x":9657.5,"y":3},{"s":6,"x":9660.75,"y":3.2},{"s":6,"x":9662.9,"y":3.8},{"s":6,"x":9665.05,"y":4.4},{"s":6,"x":9667.2,"y":4.6},{"s":6,"x":9669.35,"y":4.55},{"s":6,"x":9671.5,"y":4.35},{"s":6,"x":9674.7,"y":4.15},{"s":6,"x":9676.9,"y":4.1},{"s":6,"x":9683.3,"y":4.05},{"s":6,"x":9689.8,"y":3.9},{"s":6,"x":9696.2,"y":3.8},{"s":6,"x":9702.7,"y":3.9},{"s":6,"x":9709.1,"y":4.05},
{"s":7,"x":9639.25,"y":1.95},{"s":7,"x":9651.1,"y":1.97},{"s":7,"x":9657.5,"y":2.05},{"s":7,"x":9660.2,"y":2.3},{"s":7,"x":9661.8,"y":2.75},{"s":7,"x":9663.4,"y":2.95},{"s":7,"x":9666.1,"y":3.2},{"s":7,"x":9669.35,"y":3.6},{"s":7,"x":9672,"y":3.4},{"s":7,"x":9674.7,"y":3.1},{"s":7,"x":9676.3,"y":2.95},{"s":7,"x":9678,"y":3},{"s":7,"x":9679.6,"y":3.1},{"s":7,"x":9683.3,"y":3},{"s":7,"x":9689.8,"y":2.85},{"s":7,"x":9696.2,"y":2.75},{"s":7,"x":9702.7,"y":2.8},{"s":7,"x":9709.1,"y":2.9}
],
"DL":[
{"t":"-Phos","x":9707,"y":8.7,"k":"n"},{"t":"ads","x":9696,"y":8.58,"k":"b"},{"t":"Zn","x":9691.7,"y":8.7,"k":"n"},{"t":"phosphate Zn","x":9707,"y":7.62,"k":"n"},{"t":"Zn²⁺ -shoot","x":9707.85,"y":6.4,"k":"n"},{"t":"Zn²⁺ -root","x":9707.85,"y":5.38,"k":"n"},{"t":"ZnO-shoot","x":9707.2,"y":4.4,"k":"n"},{"t":"ZnO- root","x":9707.85,"y":3.32,"k":"n"},{"t":"ZnONPs","x":9707.5,"y":2.27,"k":"n"},{"t":"D","x":9642.5,"y":9.55,"k":"p"}
],
"E":[
{"s":1,"x":2.56,"y":9.05},{"s":1,"x":2.75,"y":8.85},{"s":1,"x":3,"y":8.75},{"s":1,"x":3.25,"y":8.95},{"s":1,"x":3.5,"y":9.35},{"s":1,"x":3.75,"y":9.68},{"s":1,"x":4,"y":9.8},{"s":1,"x":4.25,"y":9.7},{"s":1,"x":4.5,"y":9.35},{"s":1,"x":4.75,"y":8.9},{"s":1,"x":5,"y":8.72},{"s":1,"x":5.25,"y":8.9},{"s":1,"x":5.5,"y":9.25},{"s":1,"x":5.75,"y":9.5},{"s":1,"x":6,"y":9.55},{"s":1,"x":6.25,"y":9.53},{"s":1,"x":6.5,"y":9.3},{"s":1,"x":6.75,"y":8.95},{"s":1,"x":7,"y":8.82},{"s":1,"x":7.25,"y":9},{"s":1,"x":7.5,"y":9.28},{"s":1,"x":7.75,"y":9.48},{"s":1,"x":8,"y":9.42},{"s":1,"x":8.1,"y":9.5},{"s":1,"x":8.25,"y":9.38},{"s":1,"x":8.4,"y":9.3},{"s":1,"x":8.5,"y":9.25},{"s":1,"x":8.6,"y":9.2},{"s":1,"x":8.75,"y":9.05},{"s":1,"x":9,"y":8.95},{"s":1,"x":9.25,"y":8.85},{"s":1,"x":9.5,"y":9},{"s":1,"x":9.75,"y":9.22},{"s":1,"x":10,"y":9.38},{"s":1,"x":10.25,"y":9.25},{"s":1,"x":10.4,"y":9.38},{"s":1,"x":10.5,"y":9.32},{"s":1,"x":10.6,"y":9.15},{"s":1,"x":10.75,"y":9.2},{"s":1,"x":11,"y":9.35},{"s":1,"x":11.1,"y":9.4},{"s":1,"x":11.25,"y":9.28},{"s":1,"x":11.4,"y":9.22},{"s":1,"x":11.5,"y":9.45},{"s":1,"x":11.75,"y":9.32},{"s":1,"x":11.9,"y":9.5},{"s":1,"x":12,"y":9.55},{"s":1,"x":12.1,"y":9.25},{"s":1,"x":12.25,"y":9.3},{"s":1,"x":12.35,"y":9.55},{"s":1,"x":12.44,"y":9.2},
{"s":2,"x":2.56,"y":8.15},{"s":2,"x":2.75,"y":7.95},{"s":2,"x":3,"y":7.78},{"s":2,"x":3.25,"y":7.95},{"s":2,"x":3.5,"y":8.25},{"s":2,"x":3.75,"y":8.42},{"s":2,"x":4,"y":8.5},{"s":2,"x":4.25,"y":8.42},{"s":2,"x":4.5,"y":8.28},{"s":2,"x":4.75,"y":8},{"s":2,"x":5,"y":7.78},{"s":2,"x":5.25,"y":7.9},{"s":2,"x":5.5,"y":8.15},{"s":2,"x":5.75,"y":8.35},{"s":2,"x":6,"y":8.52},{"s":2,"x":6.25,"y":8.68},{"s":2,"x":6.4,"y":8.75},{"s":2,"x":6.5,"y":8.65},{"s":2,"x":6.75,"y":8.2},{"s":2,"x":7,"y":7.88},{"s":2,"x":7.25,"y":7.9},{"s":2,"x":7.5,"y":8.1},{"s":2,"x":7.75,"y":8.22},{"s":2,"x":8,"y":8.3},{"s":2,"x":8.25,"y":8.42},{"s":2,"x":8.5,"y":8.48},{"s":2,"x":8.75,"y":8.3},{"s":2,"x":9,"y":8},{"s":2,"x":9.25,"y":7.82},{"s":2,"x":9.5,"y":8},{"s":2,"x":9.75,"y":8.18},{"s":2,"x":10,"y":8.24},{"s":2,"x":10.25,"y":8.2},{"s":2,"x":10.5,"y":8.18},{"s":2,"x":10.75,"y":8.2},{"s":2,"x":11,"y":8.12},{"s":2,"x":11.25,"y":8.1},{"s":2,"x":11.5,"y":8.2},{"s":2,"x":11.75,"y":8.32},{"s":2,"x":12,"y":8.35},{"s":2,"x":12.25,"y":8.25},{"s":2,"x":12.44,"y":8.08},
{"s":3,"x":2.56,"y":7.15},{"s":3,"x":2.75,"y":6.95},{"s":3,"x":3,"y":6.8},{"s":3,"x":3.25,"y":7},{"s":3,"x":3.5,"y":7.38},{"s":3,"x":3.75,"y":7.62},{"s":3,"x":4,"y":7.7},{"s":3,"x":4.25,"y":7.62},{"s":3,"x":4.5,"y":7.38},{"s":3,"x":4.75,"y":7},{"s":3,"x":5,"y":6.75},{"s":3,"x":5.25,"y":6.85},{"s":3,"x":5.5,"y":7.15},{"s":3,"x":5.75,"y":7.42},{"s":3,"x":6,"y":7.52},{"s":3,"x":6.25,"y":7.55},{"s":3,"x":6.5,"y":7.38},{"s":3,"x":6.75,"y":6.95},{"s":3,"x":7,"y":6.7},{"s":3,"x":7.25,"y":6.82},{"s":3,"x":7.5,"y":7.1},{"s":3,"x":7.75,"y":7.28},{"s":3,"x":8,"y":7.42},{"s":3,"x":8.25,"y":7.55},{"s":3,"x":8.5,"y":7.6},{"s":3,"x":8.75,"y":7.38},{"s":3,"x":9,"y":7},{"s":3,"x":9.25,"y":6.72},{"s":3,"x":9.5,"y":6.85},{"s":3,"x":9.75,"y":7.15},{"s":3,"x":10,"y":7.38},{"s":3,"x":10.1,"y":7.45},{"s":3,"x":10.25,"y":7.3},{"s":3,"x":10.4,"y":7.22},{"s":3,"x":10.5,"y":7.32},{"s":3,"x":10.6,"y":7.4},{"s":3,"x":10.75,"y":7.12},{"s":3,"x":10.9,"y":7.02},{"s":3,"x":11,"y":7},{"s":3,"x":11.15,"y":6.75},{"s":3,"x":11.25,"y":6.82},{"s":3,"x":11.35,"y":7.05},{"s":3,"x":11.5,"y":7},{"s":3,"x":11.6,"y":6.95},{"s":3,"x":11.75,"y":7.2},{"s":3,"x":11.9,"y":7.28},{"s":3,"x":12,"y":7.25},{"s":3,"x":12.1,"y":7.15},{"s":3,"x":12.25,"y":7.38},{"s":3,"x":12.35,"y":7.42},{"s":3,"x":12.44,"y":7.1},
{"s":4,"x":2.56,"y":6.05},{"s":4,"x":2.75,"y":5.7},{"s":4,"x":3,"y":5.5},{"s":4,"x":3.25,"y":5.7},{"s":4,"x":3.5,"y":6.15},{"s":4,"x":3.75,"y":6.45},{"s":4,"x":4,"y":6.55},{"s":4,"x":4.25,"y":6.45},{"s":4,"x":4.5,"y":6.1},{"s":4,"x":4.75,"y":5.7},{"s":4,"x":5,"y":5.45},{"s":4,"x":5.25,"y":5.6},{"s":4,"x":5.5,"y":5.95},{"s":4,"x":5.75,"y":6.2},{"s":4,"x":6,"y":6.3},{"s":4,"x":6.25,"y":6.35},{"s":4,"x":6.5,"y":6.2},{"s":4,"x":6.75,"y":5.8},{"s":4,"x":7,"y":5.55},{"s":4,"x":7.25,"y":5.7},{"s":4,"x":7.5,"y":6},{"s":4,"x":7.75,"y":6.15},{"s":4,"x":8,"y":6.22},{"s":4,"x":8.25,"y":6.28},{"s":4,"x":8.5,"y":6.15},{"s":4,"x":8.75,"y":5.9},{"s":4,"x":9,"y":5.6},{"s":4,"x":9.25,"y":5.5},{"s":4,"x":9.5,"y":5.7},{"s":4,"x":9.75,"y":6},{"s":4,"x":10,"y":6.15},{"s":4,"x":10.25,"y":6.22},{"s":4,"x":10.4,"y":6.28},{"s":4,"x":10.5,"y":6.15},{"s":4,"x":10.6,"y":6.08},{"s":4,"x":10.75,"y":6.2},{"s":4,"x":10.9,"y":5.95},{"s":4,"x":11,"y":5.8},{"s":4,"x":11.1,"y":5.6},{"s":4,"x":11.25,"y":5.65},{"s":4,"x":11.5,"y":6},{"s":4,"x":11.6,"y":6.2},{"s":4,"x":11.75,"y":6.15},{"s":4,"x":12,"y":6.3},{"s":4,"x":12.1,"y":6.05},{"s":4,"x":12.25,"y":6.05},{"s":4,"x":12.35,"y":6.15},{"s":4,"x":12.44,"y":5.95},
{"s":5,"x":2.56,"y":4.75},{"s":5,"x":2.75,"y":4.55},{"s":5,"x":3,"y":4.45},{"s":5,"x":3.25,"y":4.65},{"s":5,"x":3.5,"y":5.05},{"s":5,"x":3.75,"y":5.4},{"s":5,"x":4,"y":5.5},{"s":5,"x":4.25,"y":5.4},{"s":5,"x":4.5,"y":5},{"s":5,"x":4.75,"y":4.5},{"s":5,"x":5,"y":4.15},{"s":5,"x":5.25,"y":4.3},{"s":5,"x":5.5,"y":4.7},{"s":5,"x":5.75,"y":4.98},{"s":5,"x":6,"y":5.05},{"s":5,"x":6.25,"y":5.05},{"s":5,"x":6.5,"y":4.9},{"s":5,"x":6.75,"y":4.55},{"s":5,"x":7,"y":4.3},{"s":5,"x":7.25,"y":4.48},{"s":5,"x":7.5,"y":4.85},{"s":5,"x":7.75,"y":5.02},{"s":5,"x":8,"y":5.05},{"s":5,"x":8.1,"y":5.1},{"s":5,"x":8.25,"y":4.98},{"s":5,"x":8.4,"y":4.92},{"s":5,"x":8.5,"y":4.9},{"s":5,"x":8.6,"y":5},{"s":5,"x":8.75,"y":4.8},{"s":5,"x":9,"y":4.55},{"s":5,"x":9.25,"y":4.45},{"s":5,"x":9.5,"y":4.6},{"s":5,"x":9.6,"y":4.68},{"s":5,"x":9.75,"y":4.9},{"s":5,"x":10,"y":5.12},{"s":5,"x":10.1,"y":5.2},{"s":5,"x":10.25,"y":5},{"s":5,"x":10.4,"y":5.05},{"s":5,"x":10.5,"y":4.9},{"s":5,"x":10.75,"y":4.75},{"s":5,"x":10.9,"y":4.6},{"s":5,"x":11,"y":4.55},{"s":5,"x":11.1,"y":4.65},{"s":5,"x":11.25,"y":4.5},{"s":5,"x":11.35,"y":4.45},{"s":5,"x":11.5,"y":4.75},{"s":5,"x":11.75,"y":4.95},{"s":5,"x":11.9,"y":5.05},{"s":5,"x":12,"y":5.1},{"s":5,"x":12.25,"y":5.22},{"s":5,"x":12.44,"y":5.35},
{"s":6,"x":2.56,"y":3.75},{"s":6,"x":2.75,"y":3.6},{"s":6,"x":3,"y":3.5},{"s":6,"x":3.25,"y":3.65},{"s":6,"x":3.5,"y":3.95},{"s":6,"x":3.75,"y":4.1},{"s":6,"x":4,"y":4.08},{"s":6,"x":4.25,"y":4.05},{"s":6,"x":4.5,"y":3.9},{"s":6,"x":4.75,"y":3.5},{"s":6,"x":5,"y":3},{"s":6,"x":5.25,"y":3.1},{"s":6,"x":5.5,"y":3.5},{"s":6,"x":5.75,"y":3.7},{"s":6,"x":5.9,"y":3.95},{"s":6,"x":6,"y":4},{"s":6,"x":6.1,"y":4.1},{"s":6,"x":6.15,"y":3.85},{"s":6,"x":6.25,"y":3.95},{"s":6,"x":6.5,"y":3.9},{"s":6,"x":6.75,"y":3.4},{"s":6,"x":7,"y":3},{"s":6,"x":7.25,"y":3.1},{"s":6,"x":7.5,"y":3.6},{"s":6,"x":7.75,"y":3.8},{"s":6,"x":7.9,"y":3.8},{"s":6,"x":7.95,"y":4.22},{"s":6,"x":8,"y":3.75},{"s":6,"x":8.2,"y":4.1},{"s":6,"x":8.35,"y":3.65},{"s":6,"x":8.55,"y":3.45},{"s":6,"x":8.7,"y":3.95},{"s":6,"x":8.8,"y":3.7},{"s":6,"x":9,"y":3.4},{"s":6,"x":9.15,"y":3.3},{"s":6,"x":9.3,"y":3.4},{"s":6,"x":9.55,"y":3.35},{"s":6,"x":9.63,"y":3.95},{"s":6,"x":9.68,"y":3.3},{"s":6,"x":9.8,"y":3.55},{"s":6,"x":10.05,"y":3.6},{"s":6,"x":10.11,"y":4.25},{"s":6,"x":10.18,"y":3.6},{"s":6,"x":10.4,"y":3.5},{"s":6,"x":10.7,"y":3.6},{"s":6,"x":11,"y":3.6},{"s":6,"x":11.3,"y":3.62},{"s":6,"x":11.6,"y":3.7},{"s":6,"x":11.9,"y":3.95},{"s":6,"x":12.1,"y":3.85},{"s":6,"x":12.3,"y":3.7},{"s":6,"x":12.44,"y":3.5},
{"s":7,"x":2.56,"y":2.4},{"s":7,"x":2.8,"y":2.32},{"s":7,"x":3.05,"y":2.28},{"s":7,"x":3.3,"y":2.4},{"s":7,"x":3.5,"y":2.6},{"s":7,"x":3.65,"y":2.72},{"s":7,"x":3.8,"y":2.65},{"s":7,"x":4,"y":2.52},{"s":7,"x":4.2,"y":2.62},{"s":7,"x":4.5,"y":2.82},{"s":7,"x":4.7,"y":2.6},{"s":7,"x":4.9,"y":2.1},{"s":7,"x":5.08,"y":1.85},{"s":7,"x":5.3,"y":2.1},{"s":7,"x":5.5,"y":2.4},{"s":7,"x":5.68,"y":2.5},{"s":7,"x":5.85,"y":2.6},{"s":7,"x":6.04,"y":2.75},{"s":7,"x":6.2,"y":2.4},{"s":7,"x":6.4,"y":2.1},{"s":7,"x":6.55,"y":2.48},{"s":7,"x":6.7,"y":2.8},{"s":7,"x":6.9,"y":2.4},{"s":7,"x":7.1,"y":1.9},{"s":7,"x":7.3,"y":1.72},{"s":7,"x":7.5,"y":2.1},{"s":7,"x":7.65,"y":2.6},{"s":7,"x":7.77,"y":2.82},{"s":7,"x":7.95,"y":2.65},{"s":7,"x":8.2,"y":2.48},{"s":7,"x":8.45,"y":2.42},{"s":7,"x":8.7,"y":2.6},{"s":7,"x":8.97,"y":2.8},{"s":7,"x":9.15,"y":2.4},{"s":7,"x":9.33,"y":1.92},{"s":7,"x":9.5,"y":2.1},{"s":7,"x":9.75,"y":2.62},{"s":7,"x":9.99,"y":2.8},{"s":7,"x":10.2,"y":2.55},{"s":7,"x":10.45,"y":2.2},{"s":7,"x":10.6,"y":2.1},{"s":7,"x":10.8,"y":2.35},{"s":7,"x":11,"y":2.5},{"s":7,"x":11.2,"y":2.38},{"s":7,"x":11.4,"y":2.35},{"s":7,"x":11.6,"y":2.48},{"s":7,"x":11.8,"y":2.6},{"s":7,"x":12,"y":2.65},{"s":7,"x":12.2,"y":2.55},{"s":7,"x":12.44,"y":2.3}
],
"EL":[
{"t":"-Phos","x":12.26,"y":8.7,"k":"n"},{"t":"ads","x":11.14,"y":8.58,"k":"b"},{"t":"Zn","x":10.71,"y":8.7,"k":"n"},{"t":"phosphate Zn","x":12.38,"y":7.8,"k":"n"},{"t":"Zn²⁺ -shoot","x":12.29,"y":6.55,"k":"n"},{"t":"Zn²⁺ -root","x":12.2,"y":5.37,"k":"n"},{"t":"ZnO-shoot","x":12.38,"y":4.18,"k":"n"},{"t":"ZnO- root","x":12.2,"y":3.15,"k":"n"},{"t":"ZnONPs","x":12.24,"y":2,"k":"n"},{"t":"E","x":2.68,"y":9.45,"k":"p"}
],
"F":[
{"s":1,"x":0,"y":8.87},{"s":1,"x":0.67,"y":8.9},{"s":1,"x":0.86,"y":9},{"s":1,"x":1.04,"y":9.15},{"s":1,"x":1.29,"y":9.55},{"s":1,"x":1.51,"y":9.82},{"s":1,"x":1.72,"y":9.7},{"s":1,"x":1.93,"y":9.25},{"s":1,"x":2.02,"y":8.92},{"s":1,"x":2.39,"y":8.92},{"s":1,"x":2.64,"y":8.97},{"s":1,"x":2.88,"y":9.03},{"s":1,"x":3.13,"y":8.95},{"s":1,"x":3.37,"y":8.88},{"s":1,"x":4.85,"y":8.86},{"s":1,"x":8,"y":8.85},
{"s":2,"x":0,"y":7.9},{"s":2,"x":0.31,"y":7.88},{"s":2,"x":0.55,"y":7.89},{"s":2,"x":0.8,"y":7.95},{"s":2,"x":0.98,"y":8.05},{"s":2,"x":1.23,"y":8.5},{"s":2,"x":1.51,"y":8.85},{"s":2,"x":1.78,"y":8.6},{"s":2,"x":1.96,"y":7.95},{"s":2,"x":2.15,"y":8},{"s":2,"x":2.52,"y":8.1},{"s":2,"x":2.94,"y":8.18},{"s":2,"x":3.37,"y":8},{"s":2,"x":3.62,"y":7.9},{"s":2,"x":3.99,"y":7.96},{"s":2,"x":4.48,"y":7.92},{"s":2,"x":8,"y":7.88},
{"s":3,"x":0,"y":6.92},{"s":3,"x":0.67,"y":6.94},{"s":3,"x":0.92,"y":7.02},{"s":3,"x":1.1,"y":7.15},{"s":3,"x":1.29,"y":7.5},{"s":3,"x":1.51,"y":7.77},{"s":3,"x":1.78,"y":7.6},{"s":3,"x":1.96,"y":7.05},{"s":3,"x":2.15,"y":6.95},{"s":3,"x":2.39,"y":7},{"s":3,"x":2.64,"y":7.1},{"s":3,"x":3.01,"y":7.02},{"s":3,"x":3.37,"y":6.97},{"s":3,"x":4.23,"y":6.9},{"s":3,"x":8,"y":6.9},
{"s":4,"x":0,"y":5.95},{"s":4,"x":0.55,"y":5.96},{"s":4,"x":0.8,"y":6},{"s":4,"x":0.98,"y":6.15},{"s":4,"x":1.23,"y":6.55},{"s":4,"x":1.44,"y":6.78},{"s":4,"x":1.72,"y":6.6},{"s":4,"x":1.96,"y":6},{"s":4,"x":2.15,"y":5.95},{"s":4,"x":2.52,"y":6},{"s":4,"x":2.88,"y":6.08},{"s":4,"x":3.25,"y":6},{"s":4,"x":3.87,"y":5.95},{"s":4,"x":8,"y":5.95},
{"s":5,"x":0,"y":4.95},{"s":5,"x":0.55,"y":4.97},{"s":5,"x":0.8,"y":5},{"s":5,"x":0.98,"y":5.15},{"s":5,"x":1.23,"y":5.55},{"s":5,"x":1.47,"y":5.82},{"s":5,"x":1.72,"y":5.6},{"s":5,"x":1.96,"y":5.05},{"s":5,"x":2.15,"y":5},{"s":5,"x":2.39,"y":5.05},{"s":5,"x":2.64,"y":5.12},{"s":5,"x":3.01,"y":5.05},{"s":5,"x":3.5,"y":4.97},{"s":5,"x":8,"y":4.95},
{"s":6,"x":0,"y":3.98},{"s":6,"x":0.55,"y":4},{"s":6,"x":0.86,"y":4.05},{"s":6,"x":1.1,"y":4.3},{"s":6,"x":1.29,"y":4.6},{"s":6,"x":1.51,"y":4.88},{"s":6,"x":1.72,"y":4.7},{"s":6,"x":1.93,"y":4.1},{"s":6,"x":2.09,"y":4.02},{"s":6,"x":2.39,"y":4.1},{"s":6,"x":2.64,"y":4.25},{"s":6,"x":2.88,"y":4.35},{"s":6,"x":3.13,"y":4.2},{"s":6,"x":3.31,"y":3.98},{"s":6,"x":3.87,"y":4.02},{"s":6,"x":4.36,"y":4.05},{"s":6,"x":4.85,"y":4.02},{"s":6,"x":5.58,"y":4.02},{"s":6,"x":6.32,"y":4.05},{"s":6,"x":7.06,"y":4.02},{"s":6,"x":8,"y":3.98},
{"s":7,"x":0,"y":2},{"s":7,"x":0.55,"y":2.02},{"s":7,"x":0.86,"y":2.1},{"s":7,"x":1.17,"y":2.25},{"s":7,"x":1.35,"y":2.85},{"s":7,"x":1.6,"y":3.15},{"s":7,"x":1.84,"y":2.8},{"s":7,"x":2.02,"y":2.1},{"s":7,"x":2.27,"y":2.2},{"s":7,"x":2.52,"y":2.8},{"s":7,"x":2.7,"y":3.5},{"s":7,"x":2.94,"y":3.95},{"s":7,"x":3.13,"y":3.6},{"s":7,"x":3.31,"y":2.7},{"s":7,"x":3.44,"y":2.05},{"s":7,"x":3.62,"y":2.1},{"s":7,"x":3.87,"y":2.4},{"s":7,"x":4.11,"y":2.52},{"s":7,"x":4.36,"y":2.3},{"s":7,"x":4.6,"y":2.1},{"s":7,"x":4.85,"y":2.15},{"s":7,"x":5.21,"y":2.35},{"s":7,"x":5.58,"y":2.2},{"s":7,"x":5.95,"y":2.05},{"s":7,"x":6.2,"y":2.15},{"s":7,"x":6.44,"y":2.22},{"s":7,"x":6.69,"y":2.02},{"s":7,"x":6.93,"y":2.1},{"s":7,"x":7.3,"y":2.08},{"s":7,"x":8,"y":2.05}
],
"Ff":[
{"s":1,"x":0,"y":8.85},{"s":1,"x":0.67,"y":8.88},{"s":1,"x":1.04,"y":9.15},{"s":1,"x":1.29,"y":9.57},{"s":1,"x":1.51,"y":9.83},{"s":1,"x":1.72,"y":9.68},{"s":1,"x":1.96,"y":9.08},{"s":1,"x":2.09,"y":8.9},{"s":1,"x":2.39,"y":8.9},{"s":1,"x":2.88,"y":9.02},{"s":1,"x":3.25,"y":8.92},{"s":1,"x":3.62,"y":8.85},{"s":1,"x":8,"y":8.85},
{"s":2,"x":0,"y":7.88},{"s":2,"x":0.55,"y":7.88},{"s":2,"x":0.86,"y":7.95},{"s":2,"x":1.23,"y":8.5},{"s":2,"x":1.51,"y":8.87},{"s":2,"x":1.78,"y":8.58},{"s":2,"x":1.96,"y":7.94},{"s":2,"x":2.21,"y":8.02},{"s":2,"x":2.94,"y":8.2},{"s":2,"x":3.5,"y":7.95},{"s":2,"x":3.87,"y":7.88},{"s":2,"x":8,"y":7.88},
{"s":3,"x":0,"y":6.9},{"s":3,"x":0.8,"y":6.94},{"s":3,"x":1.1,"y":7.15},{"s":3,"x":1.29,"y":7.52},{"s":3,"x":1.51,"y":7.78},{"s":3,"x":1.78,"y":7.58},{"s":3,"x":1.96,"y":7.04},{"s":3,"x":2.15,"y":6.94},{"s":3,"x":2.64,"y":7.1},{"s":3,"x":3.01,"y":7},{"s":3,"x":3.62,"y":6.9},{"s":3,"x":8,"y":6.9},
{"s":4,"x":0,"y":5.94},{"s":4,"x":0.67,"y":5.96},{"s":4,"x":0.98,"y":6.15},{"s":4,"x":1.23,"y":6.57},{"s":4,"x":1.44,"y":6.8},{"s":4,"x":1.72,"y":6.58},{"s":4,"x":1.96,"y":6},{"s":4,"x":2.39,"y":5.98},{"s":4,"x":2.88,"y":6.08},{"s":4,"x":3.37,"y":5.96},{"s":4,"x":8,"y":5.94},
{"s":5,"x":0,"y":4.94},{"s":5,"x":0.67,"y":4.96},{"s":5,"x":0.98,"y":5.16},{"s":5,"x":1.23,"y":5.57},{"s":5,"x":1.47,"y":5.84},{"s":5,"x":1.72,"y":5.58},{"s":5,"x":1.96,"y":5.04},{"s":5,"x":2.39,"y":5.05},{"s":5,"x":2.64,"y":5.12},{"s":5,"x":3.13,"y":5},{"s":5,"x":3.62,"y":4.94},{"s":5,"x":8,"y":4.94},
{"s":6,"x":0,"y":3.96},{"s":6,"x":0.67,"y":3.98},{"s":6,"x":1.1,"y":4.32},{"s":6,"x":1.29,"y":4.62},{"s":6,"x":1.51,"y":4.9},{"s":6,"x":1.72,"y":4.68},{"s":6,"x":1.93,"y":4.08},{"s":6,"x":2.15,"y":4},{"s":6,"x":2.52,"y":4.15},{"s":6,"x":2.88,"y":4.37},{"s":6,"x":3.19,"y":4.15},{"s":6,"x":3.37,"y":3.96},{"s":6,"x":8,"y":3.96},
{"s":7,"x":0,"y":1.98},{"s":7,"x":0.55,"y":2},{"s":7,"x":1.17,"y":2.3},{"s":7,"x":1.35,"y":2.85},{"s":7,"x":1.6,"y":3.17},{"s":7,"x":1.84,"y":2.78},{"s":7,"x":1.96,"y":2.1},{"s":7,"x":2.15,"y":2.15},{"s":7,"x":2.39,"y":2.55},{"s":7,"x":2.7,"y":3.5},{"s":7,"x":2.94,"y":4},{"s":7,"x":3.13,"y":3.6},{"s":7,"x":3.31,"y":2.4},{"s":7,"x":3.5,"y":2.05},{"s":7,"x":3.87,"y":2.4},{"s":7,"x":4.11,"y":2.55},{"s":7,"x":4.36,"y":2.3},{"s":7,"x":4.6,"y":2.05},{"s":7,"x":4.85,"y":1.98},{"s":7,"x":8,"y":1.98}
],
"FL":[
{"t":"-Phos","x":7.91,"y":9.28,"k":"n"},{"t":"ads","x":6.65,"y":9.16,"k":"b"},{"t":"Zn","x":6.16,"y":9.28,"k":"n"},{"t":"phosphate Zn","x":7.73,"y":8.2,"k":"n"},{"t":"Zn²⁺ -shoot","x":7.89,"y":7.25,"k":"n"},{"t":"Zn²⁺ -root","x":7.79,"y":6.25,"k":"n"},{"t":"ZnO-shoot","x":7.85,"y":5.3,"k":"n"},{"t":"ZnO- root","x":7.85,"y":4.4,"k":"n"},{"t":"ZnONPs","x":7.79,"y":2.45,"k":"n"},{"t":"F","x":0.12,"y":9.5,"k":"p"}
]
},
"concat":[
{"width":217,"height":275,
"encoding":{
"x":{"field":"x","type":"quantitative","scale":{"domain":[9628.5,9709.7],"nice":false,"zero":false},"axis":{"values":[9650,9675,9700],"format":"d","labelExpr":"datum.value == 9675 ? '' : datum.label","title":null}},
"y":{"field":"y","type":"quantitative","scale":{"domain":[1.7,9.95],"nice":false,"zero":false},"axis":{"labels":false,"ticks":false,"title":"Normalized Absorption","titleFontSize":19,"titlePadding":6}}},
"layer":[
{"data":{"name":"A"},"mark":{"type":"line","color":"#222","strokeWidth":1,"interpolate":"monotone"},"encoding":{"detail":{"field":"s"}}},
{"data":{"name":"AL"},"transform":[{"filter":"datum.k == 'n'"}],"mark":{"type":"text","align":"right","baseline":"middle","fontSize":10.3},"encoding":{"text":{"field":"t"}}},
{"data":{"name":"AL"},"transform":[{"filter":"datum.k == 'b'"}],"mark":{"type":"text","align":"right","baseline":"middle","fontSize":7},"encoding":{"text":{"field":"t"}}},
{"data":{"name":"AL"},"transform":[{"filter":"datum.k == 'p'"}],"mark":{"type":"text","align":"left","baseline":"middle","fontSize":15},"encoding":{"text":{"field":"t"}}}
]},
{"width":275,"height":275,
"encoding":{
"x":{"field":"x","type":"quantitative","scale":{"domain":[2.53,12.42],"nice":false,"zero":false},"axis":{"values":[3,4,5,6,7,8,9,10,11,12],"labelExpr":"datum.value % 2 == 0 ? datum.label : ''","title":null}},
"y":{"field":"y","type":"quantitative","scale":{"domain":[1.67,9.92],"nice":false,"zero":false},"axis":{"labels":false,"ticks":false,"title":"k³χ(k)","titleFontStyle":"italic","titleFontSize":16,"titlePadding":12}}},
"layer":[
{"data":{"name":"B"},"mark":{"type":"line","color":"#222","strokeWidth":1,"interpolate":"monotone"},"encoding":{"detail":{"field":"s"}}},
{"data":{"name":"BL"},"transform":[{"filter":"datum.k == 'n'"}],"mark":{"type":"text","align":"right","baseline":"middle","fontSize":9.5},"encoding":{"text":{"field":"t"}}},
{"data":{"name":"BL"},"transform":[{"filter":"datum.k == 'b'"}],"mark":{"type":"text","align":"right","baseline":"middle","fontSize":6.5},"encoding":{"text":{"field":"t"}}},
{"data":{"name":"BL"},"transform":[{"filter":"datum.k == 'p'"}],"mark":{"type":"text","align":"left","baseline":"middle","fontSize":15},"encoding":{"text":{"field":"t"}}}
]},
{"width":218,"height":275,
"encoding":{
"x":{"field":"x","type":"quantitative","scale":{"domain":[0,8],"nice":false,"zero":false},"axis":{"values":[0,2,4,6,8],"ticks":false,"labelFontSize":22,"labelPadding":1,"title":null}},
"y":{"field":"y","type":"quantitative","scale":{"domain":[1.75,9.95],"nice":false,"zero":false},"axis":{"labels":false,"ticks":true,"tickSize":-3,"values":[1.83,2.88,3.93,4.98,6.03,7.08,8.13,9.18],"title":"FT Magnitude","titleFontSize":19,"titlePadding":8}}},
"layer":[
{"data":{"name":"C"},"mark":{"type":"line","color":"#222","strokeWidth":1,"interpolate":"monotone"},"encoding":{"detail":{"field":"s"}}},
{"data":{"name":"Cf"},"mark":{"type":"line","color":"#f01818","strokeWidth":2,"strokeDash":[7,4],"interpolate":"monotone"},"encoding":{"detail":{"field":"s"}}},
{"data":{"name":"CL"},"transform":[{"filter":"datum.k == 'n'"}],"mark":{"type":"text","align":"right","baseline":"middle","fontSize":11.5},"encoding":{"text":{"field":"t"}}},
{"data":{"name":"CL"},"transform":[{"filter":"datum.k == 'b'"}],"mark":{"type":"text","align":"right","baseline":"middle","fontSize":8},"encoding":{"text":{"field":"t"}}},
{"data":{"name":"CL"},"transform":[{"filter":"datum.k == 'p'"}],"mark":{"type":"text","align":"left","baseline":"middle","fontSize":15},"encoding":{"text":{"field":"t"}}}
]},
{"width":217,"height":274,
"encoding":{
"x":{"field":"x","type":"quantitative","scale":{"domain":[9639.3,9709.2],"nice":false,"zero":false},"axis":{"values":[9650,9675,9700],"format":"d","labelExpr":"datum.value == 9675 ? '' : datum.label","title":"Energy(eV)","titleFontSize":18,"titlePadding":2}},
"y":{"field":"y","type":"quantitative","scale":{"domain":[1.75,9.97],"nice":false,"zero":false},"axis":{"labels":false,"ticks":false,"title":"Normalized Absorption","titleFontSize":17,"titlePadding":12}}},
"layer":[
{"data":{"name":"D"},"mark":{"type":"line","color":"#222","strokeWidth":1,"interpolate":"monotone"},"encoding":{"detail":{"field":"s"}}},
{"data":{"name":"D"},"transform":[{"filter":"datum.s >= 3 && datum.s <= 6"}],"mark":{"type":"line","color":"#f01818","strokeWidth":2,"strokeDash":[7,4],"interpolate":"monotone"},"encoding":{"detail":{"field":"s"}}},
{"data":{"name":"DL"},"transform":[{"filter":"datum.k == 'n'"}],"mark":{"type":"text","align":"right","baseline":"middle","fontSize":15},"encoding":{"text":{"field":"t"}}},
{"data":{"name":"DL"},"transform":[{"filter":"datum.k == 'b'"}],"mark":{"type":"text","align":"right","baseline":"middle","fontSize":10},"encoding":{"text":{"field":"t"}}},
{"data":{"name":"DL"},"transform":[{"filter":"datum.k == 'p'"}],"mark":{"type":"text","align":"left","baseline":"middle","fontSize":15},"encoding":{"text":{"field":"t"}}}
]},
{"width":275,"height":274,
"encoding":{
"x":{"field":"x","type":"quantitative","scale":{"domain":[2.56,12.44],"nice":false,"zero":false},"axis":{"values":[3,4,5,6,7,8,9,10,11,12],"labelExpr":"datum.value % 2 == 0 ? datum.label : ''","title":"k (Å⁻¹)","titleFontSize":18,"titlePadding":0}},
"y":{"field":"y","type":"quantitative","scale":{"domain":[1.7,9.95],"nice":false,"zero":false},"axis":{"labels":false,"ticks":false,"title":"k³χ(k)","titleFontStyle":"italic","titleFontSize":20,"titlePadding":8}}},
"layer":[
{"data":{"name":"E"},"mark":{"type":"line","color":"#222","strokeWidth":1,"interpolate":"monotone"},"encoding":{"detail":{"field":"s"}}},
{"data":{"name":"EL"},"transform":[{"filter":"datum.k == 'n'"}],"mark":{"type":"text","align":"right","baseline":"middle","fontSize":13.7},"encoding":{"text":{"field":"t"}}},
{"data":{"name":"EL"},"transform":[{"filter":"datum.k == 'b'"}],"mark":{"type":"text","align":"right","baseline":"middle","fontSize":9},"encoding":{"text":{"field":"t"}}},
{"data":{"name":"EL"},"transform":[{"filter":"datum.k == 'p'"}],"mark":{"type":"text","align":"left","baseline":"middle","fontSize":15},"encoding":{"text":{"field":"t"}}}
]},
{"width":218,"height":274,
"encoding":{
"x":{"field":"x","type":"quantitative","scale":{"domain":[0,8],"nice":false,"zero":false},"axis":{"values":[0,2,4,6,8],"ticks":false,"labelFontSize":20,"labelPadding":1,"title":"R(Å)","titleFontSize":19,"titlePadding":3}},
"y":{"field":"y","type":"quantitative","scale":{"domain":[1.7,9.95],"nice":false,"zero":false},"axis":{"labels":false,"ticks":false,"title":"FT Magnitude","titleFontSize":20,"titlePadding":8}}},
"layer":[
{"data":{"name":"F"},"mark":{"type":"line","color":"#222","strokeWidth":1,"interpolate":"monotone"},"encoding":{"detail":{"field":"s"}}},
{"data":{"name":"Ff"},"mark":{"type":"line","color":"#f01818","strokeWidth":2,"strokeDash":[7,4],"interpolate":"monotone"},"encoding":{"detail":{"field":"s"}}},
{"data":{"name":"FL"},"transform":[{"filter":"datum.k == 'n'"}],"mark":{"type":"text","align":"right","baseline":"middle","fontSize":15},"encoding":{"text":{"field":"t"}}},
{"data":{"name":"FL"},"transform":[{"filter":"datum.k == 'b'"}],"mark":{"type":"text","align":"right","baseline":"middle","fontSize":10},"encoding":{"text":{"field":"t"}}},
{"data":{"name":"FL"},"transform":[{"filter":"datum.k == 'p'"}],"mark":{"type":"text","align":"left","baseline":"middle","fontSize":15},"encoding":{"text":{"field":"t"}}}
]}
]
}
